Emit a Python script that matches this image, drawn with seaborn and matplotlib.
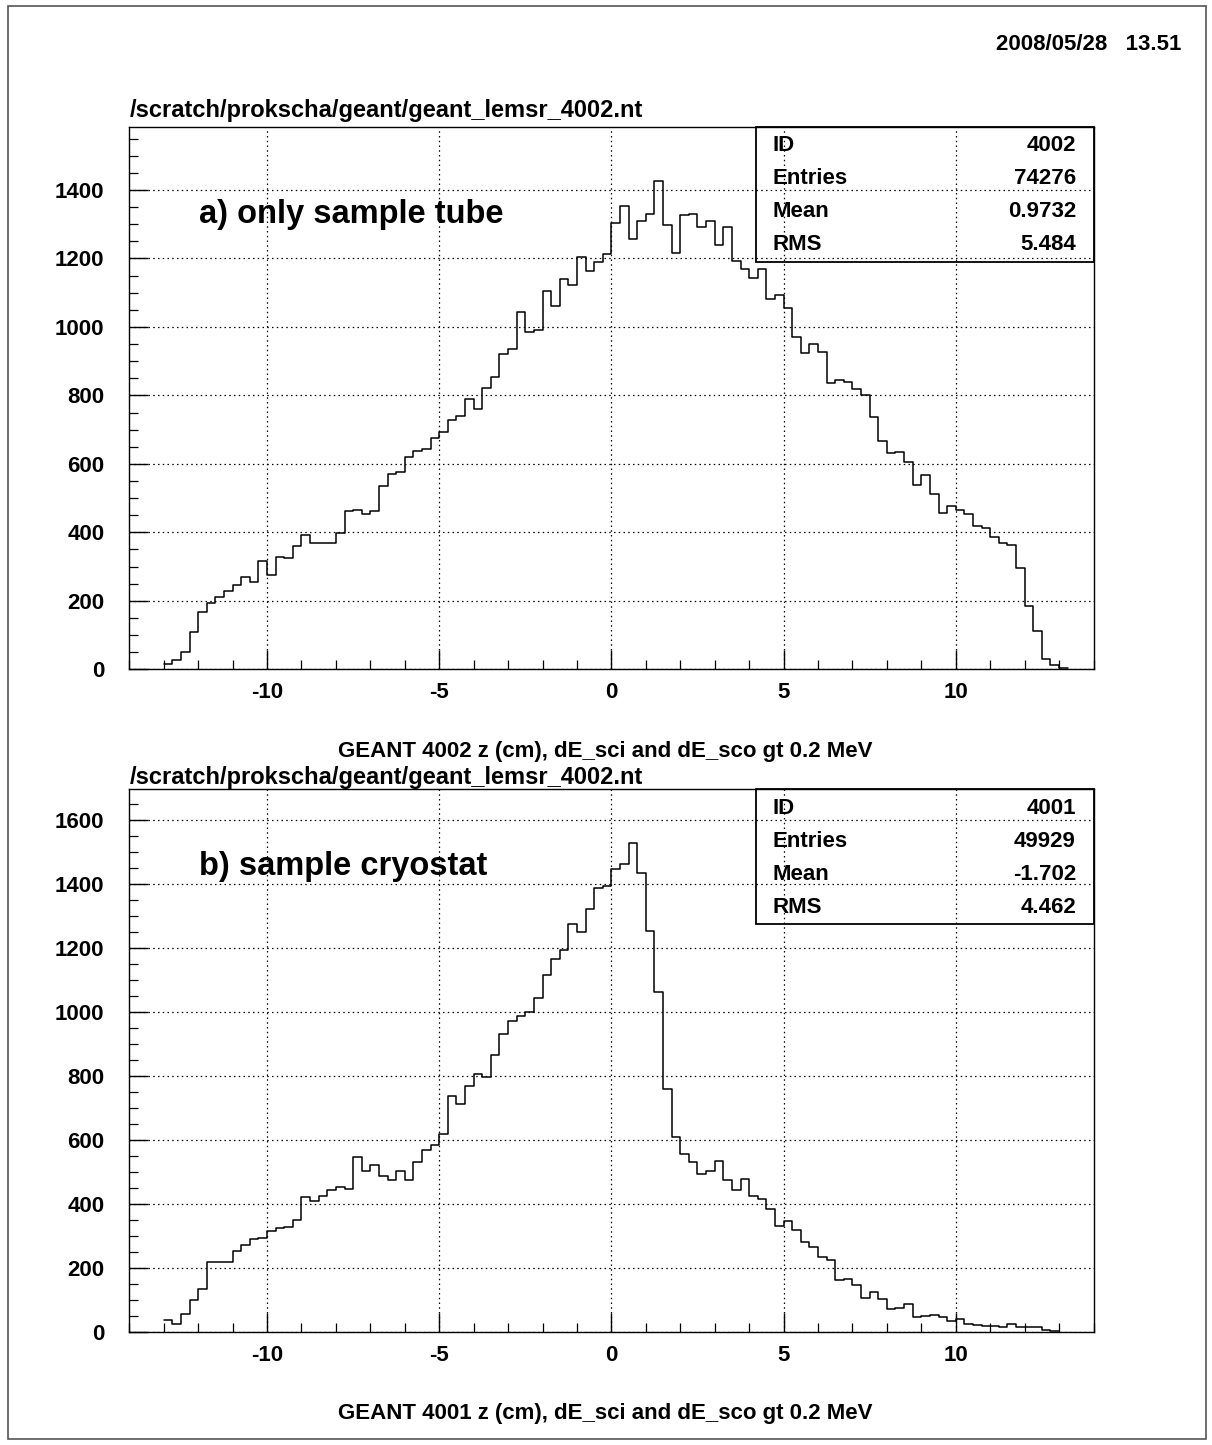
import numpy as np
import pandas as pd
import matplotlib
matplotlib.use("Agg")
import matplotlib.pyplot as plt
from matplotlib.patches import Rectangle
from matplotlib.ticker import MultipleLocator
import seaborn as sns

# ---------------- data ----------------
bin_width = 0.25
top_first_edge = -13.0
top_counts = [
    16, 26, 50, 110, 167, 193, 211, 228, 245, 270, 256, 316, 276, 329, 324, 359,
    393, 368, 369, 370, 397, 462, 465, 455, 463, 535, 570, 577, 621, 638, 643, 677,
    692, 728, 740, 790, 760, 821, 855, 920, 936, 1043, 985, 991, 1104, 1060, 1139, 1122,
    1204, 1163, 1189, 1214, 1305, 1352, 1256, 1310, 1331, 1426, 1299, 1215, 1326, 1329,
    1292, 1310, 1239, 1293, 1193, 1168, 1144, 1168, 1083, 1092,
    1055, 972, 925, 951, 926, 836, 845, 838, 818, 802, 737, 666, 631, 634, 606, 539,
    567, 512, 456, 476, 465, 455, 418, 413, 387, 369, 363, 295, 185, 113, 31, 14, 4,
]
bottom_first_edge = -13.0
bottom_counts = [
    37, 26, 57, 100, 134, 221, 219, 221, 254, 274, 291, 294, 317, 327, 329, 352,
    423, 409, 427, 445, 454, 449, 548, 503, 522, 488, 477, 504, 475, 532, 570, 584,
    620, 738, 714, 770, 807, 798, 866, 932, 973, 988, 1000, 1043, 1117, 1166, 1193, 1274,
    1251, 1321, 1387, 1395, 1446, 1464, 1527, 1434, 1254, 1064, 759, 611, 557, 531,
    495, 505, 536, 477, 446, 478, 427, 417, 384, 331,
    349, 319, 282, 266, 234, 226, 162, 168, 149, 107, 126, 104, 74, 77, 89, 48,
    51, 54, 48, 35, 42, 27, 23, 19, 21, 17, 25, 16, 16, 16, 7, 5,
]

x_range = (-14, 14)
top_ymax = 1585
bottom_ymax = 1696

titles = ["/scratch/prokscha/geant/geant_lemsr_4002.nt",
          "/scratch/prokscha/geant/geant_lemsr_4002.nt"]
xlabels = ["GEANT 4002 z (cm), dE_sci and dE_sco gt 0.2 MeV",
           "GEANT 4001 z (cm), dE_sci and dE_sco gt 0.2 MeV"]
panel_labels = ["a) only sample tube", "b) sample cryostat"]
stat_names = ["ID", "Entries", "Mean", "RMS"]
top_stats = ["4002", "74276", "0.9732", "5.484"]
bottom_stats = ["4001", "49929", "-1.702", "4.462"]
date_text = "2008/05/28   13.51"

# ---------------- style ----------------
sns.set_style("white")
plt.rcParams["font.family"] = ["Liberation Sans", "DejaVu Sans"]
plt.rcParams["font.weight"] = "bold"
plt.rcParams["axes.unicode_minus"] = False
plt.rcParams["text.color"] = "black"
plt.rcParams["xtick.color"] = "black"
plt.rcParams["ytick.color"] = "black"
plt.rcParams["xtick.labelcolor"] = "black"
plt.rcParams["ytick.labelcolor"] = "black"

W, H = 1212, 1445
fig = plt.figure(figsize=(W / 100, H / 100), dpi=100)
fig.patch.set_facecolor("white")


def fx(px):
    return px / W


def fy(py):
    return 1 - py / H


ax_left, ax_right = 129.3, 1093.5
panels = [
    dict(top=126.7, bottom=669.3, first=top_first_edge, counts=top_counts,
         ymax=top_ymax, stats=top_stats, label_xy=(0.0723, 0.8373),
         title_y=110, xlabel_y=751),
    dict(top=789.3, bottom=1332.3, first=bottom_first_edge, counts=bottom_counts,
         ymax=bottom_ymax, stats=bottom_stats, label_xy=(0.0723, 0.8575),
         title_y=777.7, xlabel_y=1413),
]

stat_rows_y = [0.9655, 0.904, 0.843, 0.782]

for i, p in enumerate(panels):
    ax = fig.add_axes([fx(ax_left), fy(p["bottom"]), fx(ax_right - ax_left),
                       (p["bottom"] - p["top"]) / H])
    counts = np.array(p["counts"], dtype=float)
    n = len(counts)
    centers = p["first"] + bin_width * (np.arange(n) + 0.5)
    df = pd.DataFrame({"z": centers, "n": counts})
    sns.histplot(data=df, x="z", weights="n", binwidth=bin_width,
                 binrange=(p["first"], p["first"] + n * bin_width),
                 element="step", fill=False, color="black", linewidth=1.1,
                 ax=ax, legend=False)
    ax.set_xlim(*x_range)
    ax.set_ylim(0, p["ymax"])
    ax.set_xlabel("")
    ax.set_ylabel("")

    ax.xaxis.set_major_locator(MultipleLocator(5))
    ax.xaxis.set_minor_locator(MultipleLocator(1))
    ax.yaxis.set_major_locator(MultipleLocator(200))
    ax.yaxis.set_minor_locator(MultipleLocator(50))
    ax.set_xticks([-10, -5, 0, 5, 10])
    ax.tick_params(axis="both", which="major", direction="in", length=13.5,
                   width=1.0, color="black", labelcolor="black", labelsize=16)
    ax.tick_params(axis="both", which="minor", direction="in", length=6.5,
                   width=0.9, color="black")
    ax.tick_params(axis="x", which="both", bottom=True, top=False, pad=9)
    ax.tick_params(axis="y", which="both", left=True, right=False, pad=18)
    for lab in ax.get_xticklabels() + ax.get_yticklabels():
        lab.set_fontweight("bold")

    ax.grid(True, which="major", linestyle=(0, (1.2, 2.6)), color="black",
            linewidth=0.9)
    ax.set_axisbelow(False)
    for s in ax.spines.values():
        s.set_visible(True)
        s.set_color("black")
        s.set_linewidth(1.0)

    # statistics box
    ax.add_patch(Rectangle((0.65, 0.7512), 0.35, 0.2488, transform=ax.transAxes,
                           fill=False, edgecolor="black", linewidth=1.3,
                           clip_on=False, zorder=6))
    for name, val, yy in zip(stat_names, p["stats"], stat_rows_y):
        ax.text(0.6676, yy, name, transform=ax.transAxes, ha="left",
                va="center", fontsize=16, fontweight="bold", color="black",
                zorder=7)
        ax.text(0.9818, yy, val, transform=ax.transAxes, ha="right",
                va="center", fontsize=16, fontweight="bold", color="black",
                zorder=7)

    ax.text(p["label_xy"][0], p["label_xy"][1], panel_labels[i],
            transform=ax.transAxes, ha="left", va="center", fontsize=23.5,
            fontweight="bold", color="black")

    fig.text(fx(ax_left), fy(p["title_y"]), titles[i], ha="left", va="center",
             fontsize=17, fontweight="bold", color="black")
    fig.text(fx(605), fy(p["xlabel_y"]), xlabels[i], ha="center",
             va="center", fontsize=16, fontweight="bold", color="black")

fig.text(fx(1181.7), fy(45), date_text, ha="right", va="center", fontsize=16,
         fontweight="bold", color="black")

fig.patches.append(Rectangle((fx(8.3), fy(1439)), fx(1205.5 - 8.3),
                             (1439 - 5.7) / H, transform=fig.transFigure,
                             fill=False, edgecolor="#555555", linewidth=1.2))

fig.savefig("out.png", dpi=100, facecolor="white")
